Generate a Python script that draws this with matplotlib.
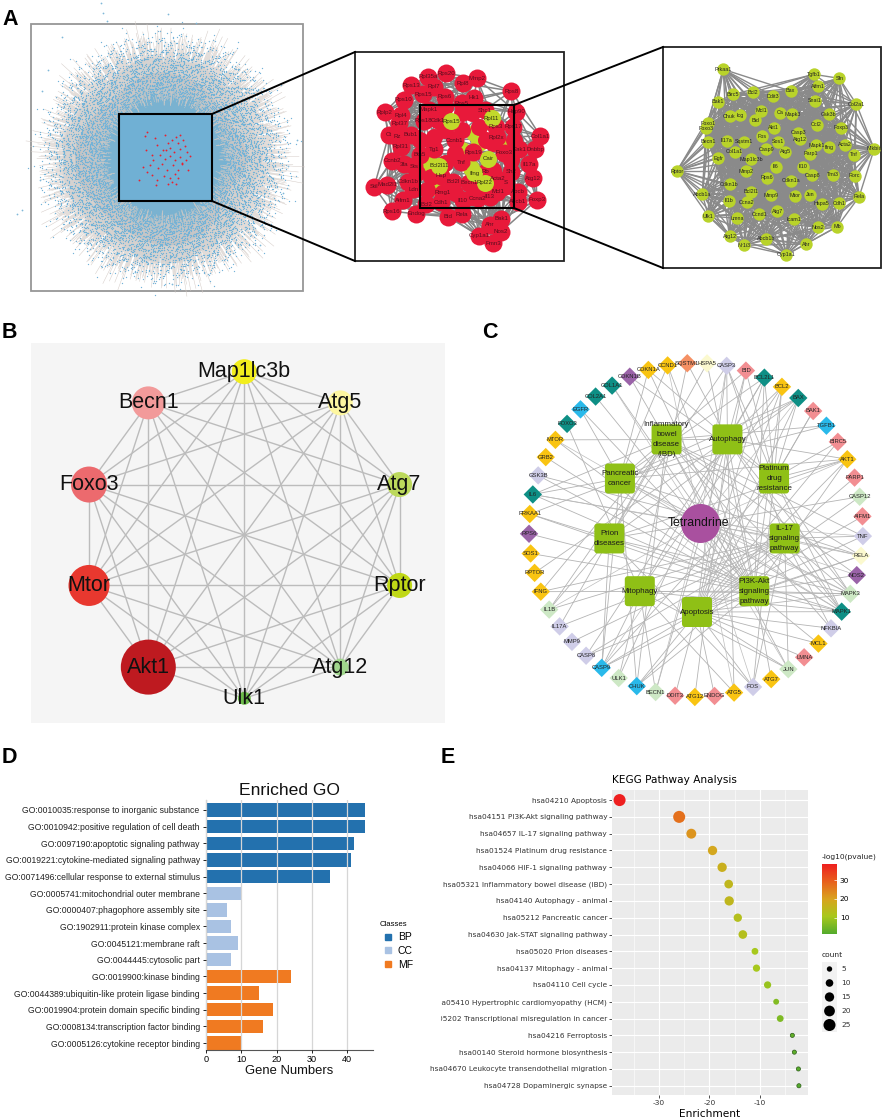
import numpy as np
import matplotlib
matplotlib.use('Agg')
import matplotlib.pyplot as plt
from matplotlib.colors import LinearSegmentedColormap
from matplotlib.patches import FancyBboxPatch, Polygon, Rectangle
from matplotlib.lines import Line2D
from itertools import combinations

W, H = 886, 1118
plt.rcParams['font.family'] = ['Liberation Sans', 'DejaVu Sans']
plt.rcParams['axes.unicode_minus'] = False

# ---- panel A, whole network: envelope of the cloud, one radius every 10 degrees
cloud_outer = [98, 94, 90, 87, 90, 92, 96, 100, 98, 100, 102, 100, 96, 91, 96, 98, 100, 104,
               102, 104, 102, 98, 100, 96, 96, 100, 104, 106, 106, 100, 100, 96, 91, 87, 90, 95]
cloud_mid = [84, 80, 76, 74, 74, 76, 80, 83, 84, 86, 86, 84, 81, 77, 80, 83, 86, 90,
             90, 90, 88, 84, 83, 82, 82, 84, 86, 88, 88, 86, 84, 79, 75, 72, 74, 80]
cloud_inner = [72, 70, 68, 66, 66, 68, 70, 72, 72, 74, 74, 72, 70, 68, 70, 72, 74, 76,
               76, 76, 74, 72, 72, 72, 72, 74, 74, 76, 76, 74, 72, 70, 66, 66, 68, 70]
# length of the stray edges, one every 5 degrees
spoke_len = [118, 102, 124, 110, 96, 116, 104, 120, 98, 112, 118, 100, 108, 122, 106, 114, 126, 104,
             118, 110, 128, 102, 116, 124, 108, 120, 112, 104, 118, 128, 100, 112, 122, 106, 116, 135,
             120, 108, 126, 114, 130, 104, 118, 140, 110, 122, 106, 116, 128, 102, 120, 112, 108, 126,
             118, 130, 104, 122, 134, 112, 120, 106, 116, 104, 112, 122, 100, 110, 118, 96, 108, 124]
stray_x = [101, 103, 107, 168, 196, 17, 22, 42, 48, 283, 297, 260, 172, 135, 288, 40, 62]
stray_y = [3, 13, 21, 14, 23, 214, 210, 91, 70, 193, 140, 245, 284, 272, 166, 180, 37]
red_x = [147, 145, 155, 157, 163, 165, 168, 170, 172, 174, 176, 178, 180, 183, 185, 187, 160, 165, 170, 175,
         180, 150, 153, 158, 162, 167, 173, 178, 182, 186, 190, 147, 152, 157, 170, 175, 178, 176, 139, 146,
         152, 168, 172, 182, 188, 143, 156, 166, 180, 164]
red_y = [132, 136, 138, 145, 150, 135, 143, 148, 140, 152, 137, 143, 149, 140, 146, 152, 155, 159, 156, 160,
         157, 165, 160, 168, 164, 170, 165, 170, 163, 160, 156, 172, 175, 180, 178, 174, 178, 184, 180, 150,
         155, 184, 182, 164, 170, 167, 185, 150, 135, 176]

# ---- panel A, middle network (positions)
mid_names = ['Rps13', 'Rpl35a', 'Rps20', 'Rpl8', 'Mmp2', 'Rps8', 'Rps10', 'Rps15', 'Rps6', 'Hk1', 'Rplp2', 'Rpl4',
             'Rpl37', 'Rpl7', 'Rps5', 'Shc1', 'Hsp90', 'Mapk1', 'Rps18', 'Cdk1', 'Rps3', 'Rps17', 'Rpl2x', 'Col1a1',
             'Dnbbp', 'Bub1', 'Rz', 'Ct', 'Rpl31', 'Tg1', 'Ccnb1', 'Foxo3', 'Eak1', 'Il17a', 'Ccnb2', 'Bts5', '3fa',
             'Sts', 'Tnf', 'Rps19', 'Atg12', 'Rb', 'Sh2', 'Acta2', 'Mad2l1', 'Stil', 'Cdkn1b', 'Bcl2l', 'Hsp',
             'Becn1', 'S', 'Mcl1', 'Abcb', 'Foxp3', 'Aifm1', 'Bcl2', 'Cdh1', 'Rmg1', 'Il10', 'Ccna2', 'Il13',
             'Rps16', 'Endog', 'Bid', 'Rela', 'Bak1', 'Nos2', 'Cyp1a1', 'Fmn3', 'Ahr', 'Ldn', 'Abcb1']
mid_x = [205, 252, 305, 353, 393, 492, 183, 238, 300, 385, 128, 175, 170, 270, 350, 415, 505, 255, 240, 280, 448, 497,
         450, 575, 560, 203, 165, 140, 175, 270, 330, 472, 515, 543, 150, 230, 185, 212, 348, 383, 553, 418, 490, 452,
         135, 98, 195, 325, 290, 370, 475, 452, 510, 565, 180, 248, 290, 295, 352, 395, 430, 148, 218, 310, 350, 462,
         462, 400, 440, 430, 210, 510]
mid_y = [165, 140, 130, 160, 145, 183, 210, 193, 200, 203, 247, 255, 280, 170, 220, 240, 245, 240, 272, 270, 290, 290,
         322, 318, 358, 315, 320, 315, 350, 358, 330, 368, 358, 402, 392, 375, 402, 408, 396, 367, 445, 425, 425, 447,
         465, 470, 455, 455, 437, 458, 458, 485, 485, 510, 510, 522, 517, 488, 510, 505, 500, 543, 552, 560, 553, 567,
         605, 618, 640, 585, 478, 515]
# red nodes whose labels cannot be read in the crowded middle
mid_fill_x = [300, 350, 400, 440, 300, 420, 330, 260, 380, 440, 490, 350, 230, 270, 400, 330, 220, 300, 380, 470, 250, 500]
mid_fill_y = [300, 300, 290, 340, 400, 330, 370, 440, 500, 420, 390, 250, 330, 320, 470, 490, 430, 230, 250, 470, 480, 330]
mid_green_names = ['Rps15', 'Rpl11', 'Cair', 'Rpl22', 'Bcl2l11', 'Ifng']
mid_green_x = [320, 435, 425, 415, 285, 385]
mid_green_y = [273, 265, 387, 458, 407, 430]
mid_green_under_x = [385, 400, 470, 350, 270, 255, 375]
mid_green_under_y = [310, 340, 350, 360, 470, 400, 415]

# ---- panel A, right network
right_names = ['Prkaa1', 'Tgfb1', 'Sfn', 'Aifm1', 'Birc5', 'Bcl2', 'Ddit3', 'Bax', 'Snai1', 'Col2a1', 'Bak1', 'Chuk',
               'Icg', 'Mcl1', 'Ca', 'Mapk3', 'Gsk3b', 'Bid', 'Ccl2', 'Foxp3', 'Foxo1', 'Foxo3', 'Akt1', 'Casp3',
               'Atg12', 'Fos', 'Sos1', 'Becn1', 'Il17a', 'Sqstm1', 'Casp9', 'Atg5', 'Mapk1', 'Ifng', 'Parp1', 'Acta2',
               'Nfkbia', 'Tnf', 'Col1a1', 'Egfr', 'Map1lc3b', 'Rptor', 'Mmp2', 'Il6', 'Il10', 'Casp8', 'Tmi3', 'Rorc',
               'Rps6', 'Cdkn1a', 'Cdkn1b', 'Abcb1a', 'Bcl2l1', 'Mmp9', 'Mtor', 'Jun', 'Hspa5', 'Cdh1', 'Rela', 'Il1b',
               'Ccna2', 'Ccnd1', 'Atg7', 'Ulk1', 'Lmna', 'Icam1', 'Nos2', 'Mb', 'Atg12', 'Abcb1b', 'Nr1i3', 'Ahr',
               'Cyp1a1']
right_x = [1100, 1360, 1433, 1373, 1128, 1185, 1243, 1293, 1363, 1482, 1085, 1118, 1148, 1208, 1262, 1298, 1403, 1192,
           1368, 1437, 1055, 1050, 1245, 1315, 1320, 1210, 1257, 1057, 1110, 1160, 1223, 1278, 1367, 1403, 1350, 1448,
           1533, 1475, 1133, 1085, 1180, 967, 1165, 1250, 1330, 1355, 1415, 1477, 1225, 1295, 1118, 1040, 1180, 1237,
           1305, 1350, 1382, 1432, 1490, 1115, 1167, 1203, 1255, 1057, 1140, 1302, 1372, 1427, 1118, 1222, 1160, 1337,
           1281]
right_y = [118, 133, 145, 168, 193, 187, 198, 183, 212, 222, 215, 258, 255, 243, 248, 253, 253, 271, 285, 293, 280, 295,
           293, 308, 328, 318, 335, 335, 332, 335, 357, 365, 345, 352, 372, 345, 357, 375, 365, 385, 388, 423, 423, 410,
           410, 435, 435, 437, 443, 452, 463, 493, 485, 495, 497, 495, 522, 520, 500, 513, 517, 552, 543, 558, 565, 568,
           592, 590, 619, 627, 646, 642, 674]

# ---- panel B, ten hub genes on a circle
hub_names = ['Map1lc3b', 'Atg5', 'Atg7', 'Rptor', 'Atg12', 'Ulk1', 'Akt1', 'Mtor', 'Foxo3', 'Becn1']
hub_radius = [12.5, 12.5, 12.5, 12.5, 8.5, 6.5, 27.5, 20.5, 18, 16.5]
hub_colors = ['#f2ee1d', '#fdf6a0', '#bcd95c', '#c0d816', '#a0d68c', '#6dbb4b',
              '#be1a20', '#e8382f', '#ec6a6e', '#f29a9a']

# ---- panel C, genes clockwise from the top and their colour group
gene_names = ['HSPA5', 'CASP3', 'BID', 'BCL2L1', 'BCL2', 'BAX', 'BAK1', 'TGFB1', 'BIRC5', 'AKT1', 'PARP1', 'CASP12',
              'AIFM1', 'TNF', 'RELA', 'NOS2', 'MAPK3', 'MAPK1', 'NFKBIA', 'MCL1', 'LMNA', 'JUN', 'ATG7', 'FOS', 'ATG5',
              'ENDOG', 'ATG12', 'DDIT3', 'BECN1', 'CHUK', 'ULK1', 'CASP9', 'CASP8', 'MMP9', 'IL17A', 'IL1B', 'IFNG',
              'RPTOR', 'SOS1', 'RPS6', 'PRKAA1', 'IL6', 'GSK3B', 'GRB2', 'MTOR', 'FOXO3', 'EGFR', 'COL2A1', 'COL1A1',
              'CDKN1B', 'CDKN1A', 'CCND1', 'SQSTM1']
gene_groups = ['pale', 'lav', 'pink', 'teal', 'gold', 'teal', 'pink', 'cyan', 'pink', 'gold', 'pink', 'mint',
               'pink', 'lav', 'pale', 'purple', 'mint', 'teal', 'lav', 'gold', 'pink', 'mint', 'gold', 'lav', 'gold',
               'pink', 'gold', 'pink', 'mint', 'cyan', 'mint', 'cyan', 'lav', 'lav', 'lav', 'mint', 'gold',
               'gold', 'gold', 'purple', 'gold', 'teal', 'lav', 'gold', 'gold', 'teal', 'cyan', 'teal', 'teal',
               'purple', 'gold', 'gold', 'orange']
group_colors = {'pale': '#fbf9cf', 'lav': '#cfcde8', 'pink': '#f28e92', 'teal': '#0e8f85', 'gold': '#f9c412',
                'cyan': '#29b9ea', 'mint': '#cde8c5', 'purple': '#9a63a8', 'orange': '#f59064'}
tetrandrine_genes = ['CASP3', 'BAX', 'AKT1', 'TNF', 'MAPK3', 'MAPK1', 'JUN', 'FOS', 'ATG5', 'BECN1', 'CASP9', 'IL1B',
                     'IL6', 'MTOR', 'COL1A1', 'CCND1', 'RELA', 'NOS2']
# pathways counter-clockwise from the bottom
pathway_labels = ['Apoptosis', 'PI3K-Akt\nsignaling\npathway', 'IL-17\nsignaling\npathway',
                  'Platinum\ndrug\nresistance', 'Autophagy', 'Inflammatory\nbowel\ndisease\n(IBD)',
                  'Pancreatic\ncancer', 'Prion\ndiseases', 'Mitophagy']
pathway_genes = [
    ['CASP3', 'BID', 'BCL2L1', 'BCL2', 'BAX', 'BAK1', 'BIRC5', 'AKT1', 'PARP1', 'CASP12', 'AIFM1', 'TNF', 'RELA',
     'MAPK3', 'MAPK1', 'NFKBIA', 'MCL1', 'LMNA', 'JUN', 'FOS', 'ENDOG', 'DDIT3', 'CHUK', 'CASP9', 'CASP8'],
    ['BCL2L1', 'BCL2', 'CASP9', 'AKT1', 'RELA', 'NOS2', 'MAPK3', 'MAPK1', 'MCL1', 'CHUK', 'IFNG', 'SOS1', 'RPS6',
     'PRKAA1', 'IL6', 'GSK3B', 'GRB2', 'MTOR', 'EGFR', 'COL2A1', 'COL1A1', 'CDKN1B', 'CDKN1A', 'CCND1', 'HSPA5'],
    ['TNF', 'RELA', 'MAPK3', 'MAPK1', 'NFKBIA', 'JUN', 'FOS', 'CHUK', 'CASP8', 'CASP3', 'MMP9', 'IL17A', 'IL1B',
     'IFNG', 'IL6', 'GSK3B'],
    ['CASP3', 'BID', 'BCL2L1', 'BCL2', 'BAX', 'BAK1', 'BIRC5', 'AKT1', 'MAPK3', 'MAPK1', 'CDKN1A', 'CDKN1B', 'CASP9',
     'FOS'],
    ['BCL2L1', 'BCL2', 'BAX', 'AKT1', 'MAPK3', 'MAPK1', 'ATG7', 'ATG5', 'ATG12', 'BECN1', 'ULK1', 'RPTOR', 'PRKAA1',
     'MTOR', 'SQSTM1', 'CASP3', 'BID', 'CASP8'],
    ['TNF', 'RELA', 'MAPK1', 'NFKBIA', 'JUN', 'CHUK', 'IL17A', 'IL1B', 'IFNG', 'IL6', 'NOS2', 'TGFB1'],
    ['BCL2L1', 'BAX', 'TGFB1', 'AKT1', 'RELA', 'MAPK3', 'MAPK1', 'CHUK', 'IL6', 'EGFR', 'CDKN1A', 'CCND1', 'CASP9',
     'BID'],
    ['CASP3', 'BAX', 'CASP12', 'MAPK3', 'MAPK1', 'IL1B', 'CASP9', 'HSPA5', 'AKT1', 'FOS', 'PRKAA1'],
    ['BCL2L1', 'BCL2', 'BECN1', 'ULK1', 'CASP9', 'MAPK3', 'MAPK1', 'JUN', 'SQSTM1', 'FOXO3', 'ATG5'],
]

# ---- panel D
go_terms = ['GO:0010035:response to inorganic substance', 'GO:0010942:positive regulation of cell death',
            'GO:0097190:apoptotic signaling pathway', 'GO:0019221:cytokine-mediated signaling pathway',
            'GO:0071496:cellular response to external stimulus', 'GO:0005741:mitochondrial outer membrane',
            'GO:0000407:phagophore assembly site', 'GO:1902911:protein kinase complex',
            'GO:0045121:membrane raft', 'GO:0044445:cytosolic part', 'GO:0019900:kinase binding',
            'GO:0044389:ubiquitin-like protein ligase binding', 'GO:0019904:protein domain specific binding',
            'GO:0008134:transcription factor binding', 'GO:0005126:cytokine receptor binding']
go_counts = [45, 45, 42, 41, 35, 10, 6, 7, 9, 7, 24, 15, 19, 16, 10]
go_classes = ['BP'] * 5 + ['CC'] * 5 + ['MF'] * 5
class_colors = {'BP': '#2371ae', 'CC': '#a9c2e3', 'MF': '#f07a21'}

# ---- panel E
kegg_terms = ['hsa04210 Apoptosis', 'hsa04151 PI3K-Akt signaling pathway', 'hsa04657 IL-17 signaling pathway',
              'hsa01524 Platinum drug resistance', 'hsa04066 HIF-1 signaling pathway',
              'hsa05321 Inflammatory bowel disease (IBD)', 'hsa04140 Autophagy - animal',
              'hsa05212 Pancreatic cancer', 'hsa04630 Jak-STAT signaling pathway', 'hsa05020 Prion diseases',
              'hsa04137 Mitophagy - animal', 'hsa04110 Cell cycle', 'hsa05410 Hypertrophic cardiomyopathy (HCM)',
              'hsa05202 Transcriptional misregulation in cancer', 'hsa04216 Ferroptosis',
              'hsa00140 Steroid hormone biosynthesis', 'hsa04670 Leukocyte transendothelial migration',
              'hsa04728 Dopaminergic synapse']
kegg_enrichment = [-37.8, -26.0, -23.6, -19.4, -17.5, -16.2, -16.1, -14.4, -13.4, -11.0, -10.7, -8.5, -6.8, -6.0,
                   -3.6, -3.2, -2.4, -2.3]
kegg_logp = [38.6, 27, 22, 19, 17, 15, 15, 13, 13, 10.5, 10.5, 9, 6.5, 6, 3, 2.5, 2, 1.5]
kegg_count = [25, 25, 17, 15, 15, 13, 15, 12, 13, 8, 9, 9, 6, 8, 3, 3, 3, 3]
count_legend = [5, 10, 15, 20, 25]


def area(radius_px):
    """scatter size for a circle of given radius in pixels (dpi 100)"""
    return (2 * np.asarray(radius_px, dtype=float) * 0.72) ** 2


def panel_axes(x0, y0, x1, y1, **kwargs):
    return fig.add_axes([x0 / W, 1 - y1 / H, (x1 - x0) / W, (y1 - y0) / H], **kwargs)


def draw_whole_network(ax):
    ax.add_patch(Rectangle((31, 24), 272, 267, fill=False, ec='#969696', lw=1.3))
    cx, cy = 165, 158
    theta = np.radians(np.arange(0, 360, 10))
    base = np.radians(np.arange(0, 360, 5))
    # the same read lengths are turned a little each pass to fill the hairy rim of the cloud
    for turn in range(15):
        spoke_theta = base + np.radians(turn / 3)
        lengths = np.roll(spoke_len, 7 * turn)
        sx = cx + lengths * np.cos(spoke_theta)
        sy = cy - lengths * np.sin(spoke_theta)
        ax.plot(np.column_stack([cx + 0.55 * lengths * np.cos(spoke_theta), sx]).T,
                np.column_stack([cy - 0.55 * lengths * np.sin(spoke_theta), sy]).T,
                color='#d4cbc6', lw=0.35, zorder=2.5)
        for k, frac in enumerate([0.98, 0.9, 0.84, 0.78, 0.73, 0.68, 0.63, 0.58]):
            r = np.roll(spoke_len, 11 * k + 5 * turn) * frac
            ax.scatter(cx + r * np.cos(spoke_theta), cy - r * np.sin(spoke_theta), s=0.9, color='#74b3d8',
                       lw=0, zorder=3)
    ax.scatter(stray_x, stray_y, s=1.6, color='#7fb8d8', lw=0, zorder=1)
    layers = [(cloud_outer, '#dfe6ea'), (cloud_mid, '#a4bac8'), (cloud_inner, '#7ab2d0')]
    for radii, face in layers:
        pts = np.column_stack([cx + np.asarray(radii) * np.cos(theta), cy - np.asarray(radii) * np.sin(theta)])
        ax.add_patch(Polygon(pts, closed=True, fc=face, ec='none', zorder=2))
    ax.add_patch(Rectangle((119, 114), 93, 87, fc='#70b0d4', ec='black', lw=1.5, zorder=4))
    ax.scatter(red_x, red_y, s=1.8, color='#e8202f', lw=0, zorder=5)


def draw_mid_network(ax):
    ax.add_patch(Rectangle((355, 52), 209, 209, fc='white', ec='#222222', lw=1.3, zorder=1))
    x = 340 + np.asarray(mid_x) / 2.87
    y = 30 + np.asarray(mid_y) / 3
    for i, j in combinations(range(len(x)), 2):
        if np.hypot(x[i] - x[j], y[i] - y[j]) < 55:
            ax.plot([x[i], x[j]], [y[i], y[j]], color='#858585', lw=1.1, zorder=2)
    ax.scatter(340 + np.asarray(mid_green_under_x) / 2.87, 30 + np.asarray(mid_green_under_y) / 3,
               s=area(8.5), color='#c2d92b', lw=0, zorder=3)
    ax.scatter(340 + np.asarray(mid_fill_x) / 2.87, 30 + np.asarray(mid_fill_y) / 3, s=area(8.5), color='#e8193a',
               lw=0, zorder=3.2)
    ax.scatter(x, y, s=area(9), color='#e8193a', lw=0, zorder=3.5)
    gx = 340 + np.asarray(mid_green_x) / 2.87
    gy = 30 + np.asarray(mid_green_y) / 3
    ax.scatter(gx, gy, s=area(8.5), color='#c2d92b', lw=0, zorder=4)
    for name, xi, yi in zip(mid_names, x, y):
        ax.text(xi, yi, name, fontsize=4.4, ha='center', va='center', color='#5a0d1e', zorder=5)
    for name, xi, yi in zip(mid_green_names, gx, gy):
        ax.text(xi, yi, name, fontsize=4.4, ha='center', va='center', color='#2c2c10', zorder=5)
    ax.add_patch(Rectangle((420, 105), 94, 103, fill=False, ec='black', lw=1.5, zorder=6))


def draw_right_network(ax):
    ax.add_patch(Rectangle((663, 47), 218, 221, fc='white', ec='#222222', lw=1.3, zorder=1))
    x = 340 + np.asarray(right_x) / 2.87
    y = 30 + np.asarray(right_y) / 3
    for i, j in combinations(range(len(x)), 2):
        if np.hypot(x[i] - x[j], y[i] - y[j]) < 85:
            ax.plot([x[i], x[j]], [y[i], y[j]], color='#8a8a8a', lw=1.0, zorder=2)
    ax.scatter(x, y, s=area(6.2), color='#b9d32a', lw=0, zorder=3)
    for name, xi, yi in zip(right_names, x, y):
        ax.text(xi, yi, name, fontsize=3.9, ha='center', va='center', color='#222222', zorder=4)


def draw_hub_network(ax):
    ax.add_patch(Rectangle((31, 343), 414, 380, fc='#f5f5f5', ec='none', zorder=0))
    cx, cy = 244.3, 535
    angles = np.radians(90 - 36 * np.arange(len(hub_names)))
    x = cx + 163.3 * np.cos(angles)
    y = cy - 163.3 * np.sin(angles)
    for i, j in combinations(range(len(x)), 2):
        ax.plot([x[i], x[j]], [y[i], y[j]], color='#bcbcbc', lw=1.0, zorder=1)
    ax.scatter(x, y, s=area(hub_radius), c=hub_colors, lw=0, zorder=2)
    for name, xi, yi in zip(hub_names, x, y):
        ax.text(xi, yi, name, fontsize=15.5, ha='center', va='center', color='#111111', zorder=3)


def draw_pathway_network(ax):
    cx, cy, radius = 696, 530, 167
    gene_angle = np.radians(3.8 + 360 / len(gene_names) * np.arange(len(gene_names)))
    gx = cx + radius * np.sin(gene_angle)
    gy = cy - radius * np.cos(gene_angle)
    pos = {name: (a, b) for name, a, b in zip(gene_names, gx, gy)}
    hub_angle = np.radians(-90 + 40 * np.arange(len(pathway_labels)))
    hx = 697 + 89 * np.cos(hub_angle)
    hy = 523 - 89 * np.sin(hub_angle)
    for genes, a, b in zip(pathway_genes, hx, hy):
        for g in genes:
            ax.plot([a, pos[g][0]], [b, pos[g][1]], color='#b4b4b4', lw=0.6, zorder=1)
    for g in tetrandrine_genes:
        ax.plot([700, pos[g][0]], [523, pos[g][1]], color='#bdbdbd', lw=0.5, zorder=1)
    ax.scatter(gx, gy, s=88, marker='D', c=[group_colors[g] for g in gene_groups], lw=0, zorder=2)
    for name, a, b in zip(gene_names, gx, gy):
        ax.text(a, b, name, fontsize=4.2, ha='center', va='center', color='#222222', zorder=3)
    for label, a, b in zip(pathway_labels, hx, hy):
        ax.add_patch(FancyBboxPatch((a - 12.5, b - 12.5), 25, 25, boxstyle='round,pad=2.5,rounding_size=3',
                                    fc='#8fc016', ec='none', zorder=2))
        ax.text(a, b, label, fontsize=5.7, ha='center', va='center', color='#1c1c1c', linespacing=1.6, zorder=3)
    ax.scatter([700], [523], s=area(19.5), color='#a9509f', lw=0, zorder=2)
    ax.text(699, 523, 'Tetrandrine', fontsize=8.8, ha='center', va='center', color='#111111', zorder=3)


def draw_go_bars():
    ax_d = panel_axes(206, 800, 372.7, 1050)
    ypos = np.arange(len(go_terms))
    ax_d.barh(ypos, go_counts, height=0.8, color=[class_colors[c] for c in go_classes], zorder=2)
    ax_d.set_ylim(len(go_terms) - 1 + 0.42, -0.6)
    ax_d.set_xlim(0, 47.2)
    ax_d.set_xticks([0, 10, 20, 30, 40])
    ax_d.set_yticks(ypos)
    ax_d.set_yticklabels(go_terms, fontsize=6.25, color='#222222')
    ax_d.tick_params(axis='x', labelsize=6.6, length=2, width=0.6, pad=1.5)
    ax_d.tick_params(axis='y', length=2, width=0.6, pad=2.5)
    ax_d.grid(axis='x', color='#d6d6d6', lw=0.9, zorder=3)
    ax_d.set_axisbelow(False)
    for side in ['top', 'right']:
        ax_d.spines[side].set_visible(False)
    for side in ['left', 'bottom']:
        ax_d.spines[side].set_color('#555555')
        ax_d.spines[side].set_linewidth(0.8)
    ax_d.set_xlabel('Gene Numbers', fontsize=9.4, labelpad=1, color='#111111')
    ax_d.set_title('Enriched GO', fontsize=12.6, pad=3.5, color='#111111')
    handles = [Line2D([], [], marker='s', ls='', ms=4.6, color=class_colors[c], label=c) for c in class_colors]
    leg = fig.legend(handles=handles, title='Classes', loc='upper left', bbox_to_anchor=(374 / W, 1 - 916 / H),
                     frameon=False, fontsize=7.5, title_fontsize=5.6, labelspacing=0.38, handletextpad=0.2,
                     borderpad=0, handlelength=1.6)
    leg._legend_box.align = 'left'


def draw_kegg_dots(ax):
    ax_e = panel_axes(612, 790, 808, 1095, facecolor='#ebebeb')
    cmap = LinearSegmentedColormap.from_list('pval', ['#53ab2c', '#a8c81c', '#d9a31e', '#e8601c', '#ee1f1f'])
    ypos = np.arange(len(kegg_terms))
    for row in ypos:
        ax_e.axhline(row, color='white', lw=0.8, zorder=1)
    ax_e.set_xticks([-30, -20, -10])
    ax_e.set_xticks([-35, -25, -15, -5], minor=True)
    ax_e.grid(axis='x', which='major', color='white', lw=0.8, zorder=1)
    ax_e.grid(axis='x', which='minor', color='white', lw=0.4, zorder=1)
    ax_e.set_axisbelow(True)
    ax_e.tick_params(which='minor', length=0)
    dots = ax_e.scatter(kegg_enrichment, ypos, s=3 * np.asarray(kegg_count), c=kegg_logp, cmap=cmap, vmin=1.3,
                        vmax=38.6, lw=0, zorder=3)
    ax_e.scatter(kegg_enrichment[-4:], ypos[-4:], s=3 * np.asarray(kegg_count[-4:]), facecolor='none',
                 edgecolor='#2c5a1a', lw=0.5, zorder=4)
    ax_e.set_xlim(-39.3, -0.5)
    ax_e.set_ylim(len(kegg_terms) - 1 + 0.55, -0.6)
    ax_e.set_yticks(ypos)
    ax_e.set_yticklabels(kegg_terms, fontsize=5.35, family='DejaVu Sans', color='#333333')
    ax_e.tick_params(axis='y', length=2, width=0.6, pad=1.5, color='#333333')
    ax_e.tick_params(axis='x', which='major', length=2, width=0.6, pad=1.5, color='#333333')
    for t in ax_e.get_xticklabels():
        t.set_fontsize(5.4)
        t.set_family('DejaVu Sans')
        t.set_color('#333333')
    for spine in ax_e.spines.values():
        spine.set_visible(False)
    ax_e.set_xlabel('Enrichment', fontsize=7.6, family='DejaVu Sans', labelpad=2)
    ax_e.set_title('KEGG Pathway Analysis', fontsize=7.6, family='DejaVu Sans', loc='left', pad=5)

    cax = panel_axes(822, 864, 837, 934)
    cbar = fig.colorbar(dots, cax=cax)
    cbar.set_ticks([10, 20, 30])
    cbar.ax.tick_params(labelsize=5.4, length=2.5, color='white', direction='in', width=0.5, pad=2)
    for t in cbar.ax.get_yticklabels():
        t.set_family('DejaVu Sans')
    cbar.outline.set_visible(False)
    ax.text(822, 857, '-log10(pvalue)', fontsize=5.4, family='DejaVu Sans', va='center', color='#222222')
    ax.text(822, 955, 'count', fontsize=5.4, family='DejaVu Sans', va='center', color='#222222')
    key_y = 969 + 14 * np.arange(len(count_legend))
    for value, y in zip(count_legend, key_y):
        ax.add_patch(Rectangle((822, y - 7), 15, 14, fc='#f2f2f2', ec='none', zorder=1))
        ax.text(841, y, str(value), fontsize=5.4, family='DejaVu Sans', va='center', color='#333333', zorder=2)
    ax.scatter([829.5] * len(count_legend), key_y, s=3 * np.asarray(count_legend), color='black', lw=0, zorder=2)
    # the two longest labels are cut by the panel edge in the figure
    ax.add_patch(Rectangle((424, 985), 17, 65, fc='white', ec='none', zorder=5))


fig = plt.figure(figsize=(W / 100, H / 100), dpi=100)
overlay = fig.add_axes([0, 0, 1, 1], zorder=2)
overlay.set_xlim(0, W)
overlay.set_ylim(H, 0)
overlay.axis('off')

draw_whole_network(overlay)
draw_mid_network(overlay)
draw_right_network(overlay)
overlay.plot([212, 355], [114, 52], color='black', lw=1.4, zorder=6)
overlay.plot([212, 355], [201, 261], color='black', lw=1.4, zorder=6)
overlay.plot([514, 663], [105, 47], color='black', lw=1.4, zorder=6)
overlay.plot([514, 663], [208, 268], color='black', lw=1.4, zorder=6)
draw_hub_network(overlay)
draw_pathway_network(overlay)
draw_go_bars()
draw_kegg_dots(overlay)

for letter, x, y in [('A', 2, 25), ('B', 2, 338), ('C', 482, 338), ('D', 2, 763), ('E', 441, 763)]:
    overlay.text(x, y, letter, fontsize=15.5, fontweight='bold', va='baseline', color='black', zorder=7)

fig.savefig('out.png', dpi=100)
